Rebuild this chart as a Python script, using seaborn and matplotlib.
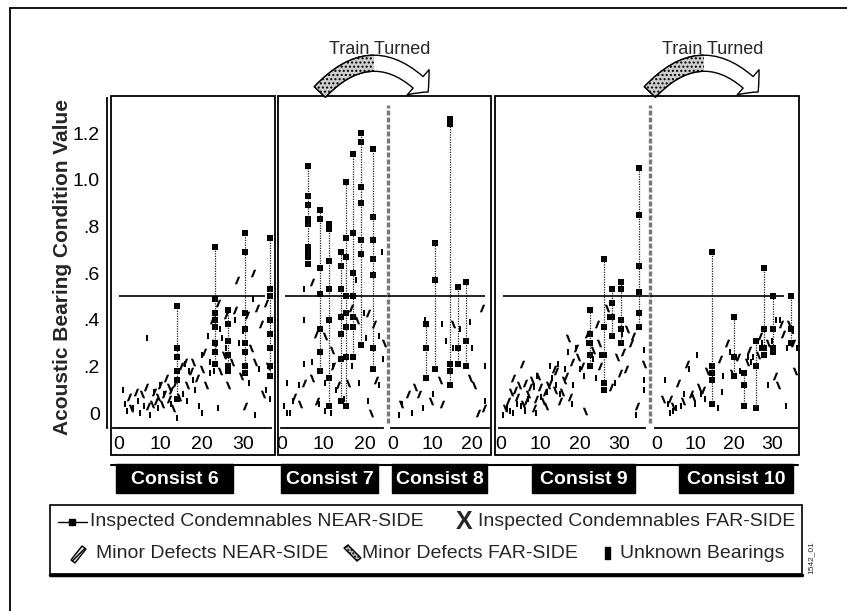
import matplotlib
matplotlib.use("Agg")
import matplotlib.pyplot as plt
import seaborn as sns
from matplotlib.path import Path
from matplotlib.patches import Rectangle, Polygon, FancyArrowPatch

sns.set_style("white")
plt.rcParams["font.family"] = ["Liberation Sans", "DejaVu Sans"]

# ---- data ----
ytick_vals = [0, 0.2, 0.4, 0.6, 0.8, 1.0, 1.2]
ytick_text = ["0", ".2", ".4", ".6", ".8", "1.0", "1.2"]
threshold = 0.5
consists = ["Consist 6", "Consist 7", "Consist 8", "Consist 9", "Consist 10"]

# Consist 6
c6_near_x = [2.5, 4, 6.5, 8.5, 10, 11.5, 12.5, 13.5, 15, 16, 17.5, 19, 20.5, 22.5, 24, 26, 28, 28.5, 31, 32.5, 33.5, 34.5, 35.5, 30.5, 9, 7, 11, 12]
c6_near_y = [0.07, 0.09, 0.11, 0.09, 0.12, 0.15, 0.10, 0.13, 0.20, 0.22, 0.18, 0.15, 0.26, 0.40, 0.47, 0.42, 0.44, 0.57, 0.42, 0.60, 0.45, 0.38, 0.47, 0.03, 0.05, 0.03, 0.08, 0.06]
c6_far_x = [3, 5.5, 8, 10.5, 12, 14.5, 16.5, 18, 21, 23, 25.5, 27.5, 29.5, 32, 33, 35, 36, 20, 26.5, 24.5, 13, 9.5]
c6_far_y = [0.02, 0.08, 0.04, 0.04, 0.11, 0.07, 0.12, 0.22, 0.12, 0.30, 0.25, 0.22, 0.16, 0.28, 0.22, 0.08, 0.20, 0.19, 0.12, 0.18, 0.02, 0.07]
c6_unk_x = [1, 1.5, 2, 3.5, 4.5, 5, 6, 6.7, 7.5, 8.5, 9.5, 11, 12.5, 13.5, 15.5, 16.5, 17, 18.5, 19.5, 20, 21.5, 22, 23, 24.5, 25, 27, 29, 30, 31.5, 32.5, 34, 35.5, 36.5, 24, 20, 14, 33, 18, 22, 26, 28, 30, 16, 10]
c6_unk_y = [0.10, 0.04, 0.01, 0.02, 0.05, 0.0, 0.03, 0.32, -0.01, 0.09, 0.02, 0.08, 0.04, 0.06, 0.08, 0.05, 0.18, 0.10, 0.03, 0.25, 0.33, 0.22, 0.18, 0.36, 0.32, 0.38, 0.30, 0.35, 0.13, 0.49, 0.19, 0.10, 0.06, 0.02, 0.0, -0.02, -0.01, 0.14, 0.17, 0.28, 0.40, 0.26, 0.21, 0.12]
c6_cond_x = [14.0, 23.2, 26.4, 30.5, 36.6]
c6_cond_y = [[0.46, 0.28, 0.24, 0.18, 0.14, 0.06],
             [0.71, 0.49, 0.43, 0.40, 0.37, 0.30, 0.26, 0.21],
             [0.44, 0.38, 0.31, 0.25, 0.20, 0.18],
             [0.77, 0.69, 0.43, 0.36, 0.30, 0.26, 0.20, 0.17],
             [0.75, 0.53, 0.50, 0.40, 0.34, 0.28, 0.20, 0.16]]

# Consist 7
c7_near_x = [7.1, 8.2, 12.3, 20.7, 22.2, 22.6, 8.4, 3.0, 16.5, 13.5, 5.2]
c7_near_y = [0.56, 0.34, 0.20, 0.43, 0.38, 0.14, 0.05, 0.07, 0.45, 0.12, 0.13]
c7_far_x = [7.1, 10.3, 15.9, 21.5, 18.0, 4.3, 12.0, 24.5]
c7_far_y = [0.15, 0.33, 0.13, 0.0, 0.40, 0.04, 0.27, 0.30]
c7_unk_x = [1.1, 1.1, 4.1, 5.2, 5.2, 5.2, 7.1, 10.3, 12.3, 17.9, 19.8, 20.2, 23.4, 23.4, 20.7, 10.3, 11.8, 2.7, 0.5, 24.0, 13.0, 16.8, 14.8, 9.0, 2.0, 18.5, 24.3]
c7_unk_y = [0.13, 0.0, 0.12, 0.21, 0.40, 0.53, 0.22, 0.13, 0.20, 0.57, 0.43, 0.32, 0.33, 0.12, 0.05, 0.01, 0.00, 0.05, 0.03, 0.69, 0.10, 0.20, 0.06, 0.04, 0.0, 0.13, 0.23]
c7_cond_x = [6.2, 9.2, 11.3, 14.2, 15.3, 17.2, 19.0, 22.0]
c7_cond_y = [[1.06, 0.93, 0.89, 0.83, 0.81, 0.71, 0.69, 0.67, 0.64],
             [0.87, 0.83, 0.62, 0.51, 0.36, 0.26, 0.18],
             [0.81, 0.79, 0.65, 0.53, 0.40, 0.15, 0.03],
             [0.69, 0.63, 0.53, 0.41, 0.34, 0.23, 0.05],
             [0.99, 0.75, 0.67, 0.50, 0.43, 0.37, 0.24, 0.03],
             [1.11, 0.77, 0.60, 0.50, 0.41, 0.37, 0.24],
             [1.20, 1.16, 0.97, 0.90, 0.74, 0.68, 0.29],
             [1.13, 0.84, 0.74, 0.66, 0.59, 0.28, 0.19]]

# Consist 8
c8_near_x = [22.4, 6.7, 21.5, 3.9, 12.4, 23.0]
c8_near_y = [0.45, 0.08, 0.0, 0.08, 0.04, 0.02]
c8_far_x = [5.6, 11.9, 15.2, 19.5, 9.5, 2.0, 20.5]
c8_far_y = [0.11, 0.14, 0.38, 0.15, 0.05, 0.04, 0.12]
c8_unk_x = [8.2, 12.4, 15.2, 19.5, 23.2, 10.2, 2.2, 1.4, 4.7, 23.2, 20.0, 13.5, 17.0, 7.5]
c8_unk_y = [0.40, 0.38, 0.28, 0.39, 0.20, 0.08, 0.04, -0.01, 0.0, 0.05, 0.28, 0.31, 0.36, 0.02]
c8_cond_x = [8.4, 10.5, 14.4, 16.5, 18.5]
c8_cond_y = [[0.38, 0.28, 0.15],
             [0.73, 0.57, 0.19],
             [1.26, 1.24, 0.21, 0.18, 0.12],
             [0.54, 0.28, 0.21],
             [0.56, 0.31, 0.20]]

# Consist 9
c9_near_x = [1.9, 3.0, 4.2, 5.3, 6.5, 7.4, 8.5, 10.0, 11.2, 12.5, 13.4, 15.1, 16.5, 18.0, 19.1, 20.5, 22.0, 24.5, 25.3, 28.1, 30.4, 31.0, 31.7, 33.0, 34.5, 3.5, 6.0, 9.0, 14.0, 17.6, 33.5]
c9_near_y = [0.05, 0.15, 0.07, 0.21, 0.05, 0.11, 0.02, 0.11, 0.09, 0.13, 0.19, 0.05, 0.16, 0.22, 0.28, 0.20, 0.34, 0.38, 0.20, 0.11, 0.17, 0.26, 0.19, 0.30, 0.03, 0.10, 0.13, 0.06, 0.18, 0.07, 0.33]
c9_far_x = [1.0, 2.5, 4.5, 5.7, 7.0, 8.0, 9.5, 10.8, 12.0, 13.8, 16.0, 17.1, 19.5, 21.3, 23.5, 25.0, 27.0, 29.5, 32.0, 36.3, 11.5, 15.5]
c9_far_y = [0.02, 0.09, 0.12, 0.04, 0.08, 0.14, 0.16, 0.05, 0.12, 0.10, 0.14, 0.32, 0.24, 0.01, 0.27, 0.30, 0.45, 0.24, 0.36, 0.21, 0.03, 0.09]
c9_unk_x = [0.5, 1.5, 2.2, 3.1, 4.0, 5.0, 6.0, 7.0, 8.8, 9.1, 10.3, 11.8, 12.5, 13.0, 14.5, 15.0, 16.3, 17.1, 18.3, 19.1, 20.0, 21.0, 22.0, 23.3, 24.3, 25.3, 27.3, 29.0, 30.9, 36.3, 36.3, 36.3, 34.3, 8.3, 14.0, 18.0]
c9_unk_y = [-0.01, 0.02, 0.01, 0.0, 0.04, 0.03, 0.01, 0.06, 0.0, 0.16, 0.07, 0.09, 0.20, 0.15, 0.21, 0.08, 0.19, 0.26, 0.12, 0.28, 0.19, 0.16, 0.30, 0.23, 0.15, 0.25, 0.41, 0.13, 0.34, 0.27, 0.14, 0.10, -0.01, 0.11, 0.12, 0.04]
c9_cond_x = [22.6, 26.2, 28.2, 30.5, 35.2]
c9_cond_y = [[0.44, 0.34, 0.30, 0.25, 0.20],
             [0.66, 0.37, 0.25, 0.13, 0.10],
             [0.53, 0.47, 0.41, 0.33],
             [0.56, 0.53, 0.40, 0.36, 0.30],
             [1.05, 0.85, 0.63, 0.52, 0.43, 0.37]]

# Consist 10
c10_near_x = [5.4, 7.9, 8.8, 18.2, 21.2, 30.8, 33.0, 12.0, 16.5, 3.5, 24.0, 27.0, 32.5, 35.5]
c10_near_y = [0.13, 0.21, 0.08, 0.30, 0.24, 0.16, 0.34, 0.10, 0.23, 0.06, 0.27, 0.33, 0.38, 0.30]
c10_far_x = [1.5, 4.2, 6.8, 9.5, 11.0, 13.0, 26.5, 29.0, 31.5, 34.5, 36.0, 19.5, 23.5]
c10_far_y = [0.06, 0.03, 0.05, 0.07, 0.11, 0.18, 0.25, 0.30, 0.12, 0.38, 0.18, 0.17, 0.22]
c10_unk_x = [2.1, 2.9, 4.2, 6.2, 8.3, 10.0, 10.4, 12.5, 16.0, 16.9, 17.3, 19.1, 23.8, 26.8, 29.0, 32.1, 33.8, 34.0, 36.5, 3.5, 5.0, 7.0, 11.5, 21.8, 24.5, 27.5, 30.0, 31.0, 35.5, 25.0]
c10_unk_y = [0.14, 0.04, 0.01, 0.03, 0.19, 0.04, 0.25, 0.06, 0.02, 0.09, 0.16, 0.26, 0.24, 0.28, 0.12, 0.40, 0.03, 0.28, 0.28, 0.00, 0.02, 0.08, 0.08, 0.18, 0.22, 0.30, 0.31, 0.40, 0.35, 0.24]
c10_cond_x = [14.4, 20.2, 22.8, 25.8, 28.0, 30.2, 35.0]
c10_cond_y = [[0.69, 0.20, 0.17, 0.14, 0.04],
              [0.41, 0.24, 0.16],
              [0.17, 0.12, 0.03],
              [0.31, 0.20, 0.02],
              [0.62, 0.36, 0.28, 0.25],
              [0.50, 0.36, 0.28, 0.26],
              [0.50, 0.36, 0.30]]

# ---- markers (first vertex repeated so the closing point is kept) ----
near_mk = Path([(-0.7, -1), (-0.1, -1), (0.7, 1), (0.1, 1), (-0.7, -1)], closed=True)
far_mk = Path([(0.7, -1), (0.1, -1), (-0.7, 1), (-0.1, 1), (0.7, -1)], closed=True)
unk_mk = Path([(-0.5, -1), (0.5, -1), (0.5, 1), (-0.5, 1), (-0.5, -1)], closed=True)

W, H = 847, 611
fig = plt.figure(figsize=(W / 100, H / 100), dpi=100)
YLIM = (-0.180, 1.359)
AXIS_Y = -0.064


def px_axes(x0, x1, y0=96, y1=455):
    return fig.add_axes([x0 / W, 1 - y1 / H, (x1 - x0) / W, (y1 - y0) / H])


def draw_consist(ax, xlim, ticks, bounds, hline, nx, ny, fx, fy, ux, uy, cx, cy):
    sns.scatterplot(x=nx, y=ny, ax=ax, marker=near_mk, s=30, color="black", linewidth=0)
    sns.scatterplot(x=fx, y=fy, ax=ax, marker=far_mk, s=30, color="black", linewidth=0)
    sns.scatterplot(x=ux, y=uy, ax=ax, marker=unk_mk, s=16, color="black", linewidth=0)
    for x, ys in zip(cx, cy):
        ax.vlines(x, min(ys), max(ys), colors="#222222", linestyles=(0, (1, 1)), lw=0.9)
        sns.scatterplot(x=[x] * len(ys), y=ys, ax=ax, marker="s", s=14, color="black", linewidth=0)
    ax.hlines(threshold, hline[0], hline[1], colors="black", lw=1.2)
    ax.set_xlim(*xlim)
    ax.set_ylim(*YLIM)
    ax.set_facecolor("none")
    for side in ["top", "right", "left"]:
        ax.spines[side].set_visible(False)
    ax.spines["bottom"].set_position(("data", AXIS_Y))
    ax.spines["bottom"].set_bounds(*bounds)
    ax.spines["bottom"].set_linewidth(1.3)
    ax.spines["bottom"].set_color("black")
    ax.set_xticks(ticks)
    ax.set_xticklabels([str(t) for t in ticks])
    ax.tick_params(axis="x", direction="inout", length=6, width=1, pad=2.5, labelsize=14, colors="black")
    ax.set_yticks([])
    ax.set_xlabel("")
    ax.set_ylabel("")


ax6 = px_axes(111, 275)
ax7 = px_axes(278, 388)
ax8 = px_axes(388, 491)
ax9 = px_axes(495, 650)
ax10 = px_axes(650, 799)

draw_consist(ax6, (-1.94, 37.8), [0, 10, 20, 30], (-1.45, 36.9), (0, 35.4),
             c6_near_x, c6_near_y, c6_far_x, c6_far_y, c6_unk_x, c6_unk_y, c6_cond_x, c6_cond_y)
draw_consist(ax7, (-0.96, 25.5), [0, 10, 20], (-0.2, 24.3), (0.7, 25.5),
             c7_near_x, c7_near_y, c7_far_x, c7_far_y, c7_unk_x, c7_unk_y, c7_cond_x, c7_cond_y)
draw_consist(ax8, (-1.27, 24.8), [0, 10, 20], (-0.5, 24.3), (-1.27, 23.3),
             c8_near_x, c8_near_y, c8_far_x, c8_far_y, c8_unk_x, c8_unk_y, c8_cond_x, c8_cond_y)
draw_consist(ax9, (-1.5, 37.9), [0, 10, 20, 30], (-0.5, 36.6), (0.5, 37.9),
             c9_near_x, c9_near_y, c9_far_x, c9_far_y, c9_unk_x, c9_unk_y, c9_cond_x, c9_cond_y)
draw_consist(ax10, (-1.8, 37.1), [0, 10, 20, 30], (-0.5, 36.5), (-1.8, 33.2),
             c10_near_x, c10_near_y, c10_far_x, c10_far_y, c10_unk_x, c10_unk_y, c10_cond_x, c10_cond_y)

# train-turned dividers
for ax, xpos in [(ax7, 25.5), (ax9, 37.9)]:
    ax.vlines(xpos, -0.043, 1.32, colors="#7a7a7a", lw=2.4, linestyles=(0, (1.5, 0.6)), clip_on=False)

# y axis on the first consist
ax6.spines["left"].set_visible(True)
ax6.spines["left"].set_position(("outward", 3))
ax6.spines["left"].set_bounds(AXIS_Y, 1.35)
ax6.spines["left"].set_linewidth(1.3)
ax6.spines["left"].set_color("black")
ax6.set_yticks(ytick_vals)
ax6.set_yticklabels(ytick_text)
ax6.tick_params(axis="y", direction="inout", length=6, width=1, pad=2, labelsize=14, colors="black")

# ---- overlay in pixel coordinates for frame, boxes, labels, legend ----
ov = fig.add_axes([0, 0, 1, 1])
ov.set_xlim(0, W)
ov.set_ylim(H, 0)
ov.axis("off")

ov.plot([10, 10], [8, H], color="black", lw=1.3)
ov.plot([10, W], [8, 8], color="black", lw=1.3)

for x0, x1 in [(111, 275), (278, 491), (495, 799)]:
    ov.add_patch(Rectangle((x0, 96), x1 - x0, 359, fill=False, lw=1.3, ec="black"))

ov.text(63, 267, "Acoustic Bearing Condition Value", rotation=90, ha="center", va="center",
        fontsize=15, fontweight="bold")

# consist labels
ov.plot([111, 798], [465, 465], color="black", lw=1.5)
label_boxes = [(116, 233), (281, 378), (392, 487), (532, 635), (679, 793)]
for name, (x0, x1) in zip(consists, label_boxes):
    ov.add_patch(Rectangle((x0, 464), x1 - x0, 29, color="black"))
    ov.text((x0 + x1) / 2, 479, name, color="white", fontsize=14, fontweight="bold",
            ha="center", va="center")

# train turned arrows
for xa, xb, xt in [(318, 430, 380), (648, 760, 713)]:
    ov.text(xt, 50, "Train Turned", fontsize=13, ha="center", va="center")
    style = "simple,head_length=10,head_width=24,tail_width=11"
    a1 = FancyArrowPatch((xa, 94), (xb, 94), connectionstyle="arc3,rad=-0.55",
                         arrowstyle=style, fc="white", ec="black", lw=1, mutation_scale=1)
    ov.add_patch(a1)
    a2 = FancyArrowPatch((xa, 94), (xb, 94), connectionstyle="arc3,rad=-0.55",
                         arrowstyle=style, fc="#cfcfcf", ec="black", lw=1, hatch="....",
                         mutation_scale=1)
    ov.add_patch(a2)
    clip = Rectangle((xa - 30, 30), (xb - xa) * 0.5 + 30, 80, transform=ov.transData)
    a2.set_clip_path(clip)

# legend
ov.add_patch(Rectangle((50, 505), 752, 69, fill=False, lw=1.2, ec="black"))
ov.plot([50, 802], [575, 575], color="black", lw=2.5)
ov.plot([58, 72, 87], [522, 522, 522], color="black", lw=1, marker="s", markersize=5, markevery=[1])
ov.text(90, 522, "Inspected Condemnables NEAR-SIDE", fontsize=14, va="center")
ov.text(464, 522, "X", fontsize=18, fontweight="bold", ha="center", va="center")
ov.text(478, 522, "Inspected Condemnables FAR-SIDE", fontsize=14, va="center")
ov.add_patch(Polygon([(71, 560), (75, 563), (86, 549), (82, 546)], closed=True,
                     fc="#dddddd", ec="black", lw=1, hatch="////"))
ov.text(96, 553, "Minor Defects NEAR-SIDE", fontsize=14, va="center")
ov.add_patch(Polygon([(344, 548), (348, 545), (361, 558), (357, 561)], closed=True,
                     fc="#bbbbbb", ec="black", lw=1, hatch="....."))
ov.text(362, 553, "Minor Defects FAR-SIDE", fontsize=14, va="center")
ov.add_patch(Rectangle((605, 547), 5, 12, color="black"))
ov.text(620, 553, "Unknown Bearings", fontsize=14, va="center")
ov.text(811, 558, "1542_01", rotation=90, fontsize=6, ha="center", va="center")

fig.savefig("out.png", dpi=100)
